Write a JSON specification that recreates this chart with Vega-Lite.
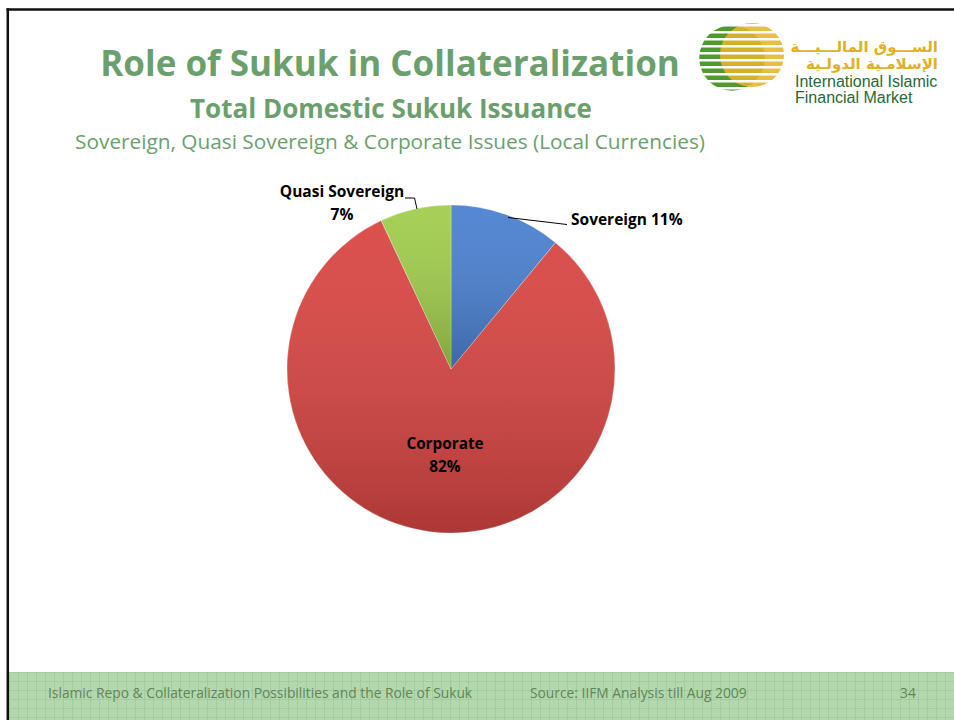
{
  "$schema": "https://vega.github.io/schema/vega-lite/v6.json",
  "width": 954,
  "height": 720,
  "autosize": "none",
  "padding": 0,
  "background": "#ffffff",
  "config": {"view": {"stroke": null}},
  "data": {"values": [
    {"category": "Sovereign", "share": 11, "rank": 1, "label": "Sovereign 11%"},
    {"category": "Corporate", "share": 82, "rank": 2, "label": "Corporate\n82%"},
    {"category": "Quasi Sovereign", "share": 7, "rank": 3, "label": "Quasi Sovereign\n7%"}
  ]},
  "layer": [
    {
      "data": {"values": [{}]},
      "mark": {"type": "rect", "fill": "#b5d7b0"},
      "encoding": {"x": {"value": 9}, "x2": {"value": 954}, "y": {"value": 672}, "y2": {"value": 720}}
    },
    {
      "data": {"values": [{}]},
      "mark": {"type": "rule", "stroke": "#8fc28c", "strokeWidth": 48, "strokeDash": [1, 8], "strokeOpacity": 0.45},
      "encoding": {"x": {"value": 9}, "x2": {"value": 954}, "y": {"value": 696}, "y2": {"value": 696}}
    },
    {
      "data": {"values": [{}]},
      "mark": {"type": "rule", "stroke": "#8fc28c", "strokeWidth": 945, "strokeDash": [1, 8], "strokeOpacity": 0.45},
      "encoding": {"x": {"value": 481.5}, "x2": {"value": 481.5}, "y": {"value": 672}, "y2": {"value": 720}}
    },
    {
      "data": {"values": [{}]},
      "mark": {"type": "rule", "stroke": "#111111", "strokeWidth": 2.5},
      "encoding": {"x": {"value": 6.5}, "x2": {"value": 954}, "y": {"value": 9.5}, "y2": {"value": 9.5}}
    },
    {
      "data": {"values": [{}]},
      "mark": {"type": "rule", "stroke": "#111111", "strokeWidth": 2.5},
      "encoding": {"x": {"value": 7.8}, "x2": {"value": 7.8}, "y": {"value": 8.3}, "y2": {"value": 720}}
    },
    {
      "data": {"values": [{"t": "Islamic Repo & Collateralization Possibilities and the Role of Sukuk"}]},
      "mark": {"type": "text", "x": 48, "y": 694, "align": "left", "baseline": "middle", "font": "Open Sans", "fontSize": 13.8, "fill": "#5f8656"},
      "encoding": {"text": {"field": "t"}}
    },
    {
      "data": {"values": [{"t": "Source: IIFM Analysis till Aug 2009"}]},
      "mark": {"type": "text", "x": 530, "y": 694, "align": "left", "baseline": "middle", "font": "Open Sans", "fontSize": 13.8, "fill": "#5f8656"},
      "encoding": {"text": {"field": "t"}}
    },
    {
      "data": {"values": [{"t": "34"}]},
      "mark": {"type": "text", "x": 908, "y": 694, "align": "center", "baseline": "middle", "font": "Open Sans", "fontSize": 13.8, "fill": "#5f8656"},
      "encoding": {"text": {"field": "t"}}
    },
    {
      "data": {"values": [{"t": "Role of Sukuk in Collateralization"}]},
      "mark": {"type": "text", "x": 390, "y": 65, "align": "center", "baseline": "middle", "font": "Open Sans", "fontWeight": "bold", "fontSize": 35, "fill": "#6b9f6d"},
      "encoding": {"text": {"field": "t"}}
    },
    {
      "data": {"values": [{"t": "Total Domestic Sukuk Issuance"}]},
      "mark": {"type": "text", "x": 391, "y": 109.5, "align": "center", "baseline": "middle", "font": "Open Sans", "fontWeight": "bold", "fontSize": 26, "fill": "#6b9f6d"},
      "encoding": {"text": {"field": "t"}}
    },
    {
      "data": {"values": [{"t": "Sovereign, Quasi Sovereign & Corporate Issues (Local Currencies)"}]},
      "mark": {"type": "text", "x": 390, "y": 143, "align": "center", "baseline": "middle", "font": "Open Sans", "fontSize": 20.8, "fill": "#6b9f6d"},
      "encoding": {"text": {"field": "t"}}
    },
    {
      "data": {"values": [{}]},
      "mark": {"type": "point", "shape": "circle", "x": 732, "y": 58, "size": 4300, "filled": true, "fill": "#4f9a2e", "opacity": 1},
      "encoding": {}
    },
    {
      "data": {"values": [{}]},
      "mark": {"type": "point", "shape": "circle", "x": 752, "y": 55, "size": 4100, "filled": true, "fill": "#e6b52a", "opacity": 0.88},
      "encoding": {}
    },
    {
      "data": {"values": [{}]},
      "mark": {"type": "rule", "stroke": "#ffffff", "strokeWidth": 100, "strokeDash": [2.5, 4.5]},
      "encoding": {"x": {"value": 742}, "x2": {"value": 742}, "y": {"value": 24}, "y2": {"value": 93}}
    },
    {
      "data": {"values": [{"t": "الســـوق المالـــيـــة"}]},
      "mark": {"type": "text", "x": 938, "y": 47, "align": "right", "baseline": "middle", "font": "DejaVu Sans", "fontWeight": "bold", "fontSize": 15, "fill": "#e0b024"},
      "encoding": {"text": {"field": "t"}}
    },
    {
      "data": {"values": [{"t": "الإسلامـية الدولـية"}]},
      "mark": {"type": "text", "x": 938, "y": 64, "align": "right", "baseline": "middle", "font": "DejaVu Sans", "fontWeight": "bold", "fontSize": 15, "fill": "#e0b024"},
      "encoding": {"text": {"field": "t"}}
    },
    {
      "data": {"values": [{"t": "International Islamic"}]},
      "mark": {"type": "text", "x": 795, "y": 82, "align": "left", "baseline": "middle", "font": "Liberation Sans", "fontSize": 16, "fill": "#1f6b38"},
      "encoding": {"text": {"field": "t"}}
    },
    {
      "data": {"values": [{"t": "Financial Market"}]},
      "mark": {"type": "text", "x": 795, "y": 98, "align": "left", "baseline": "middle", "font": "Liberation Sans", "fontSize": 16, "fill": "#1f6b38"},
      "encoding": {"text": {"field": "t"}}
    },
    {
      "mark": {"type": "arc", "x": 451, "y": 369, "outerRadius": 164, "stroke": "#ffffff", "strokeOpacity": 0.3, "strokeWidth": 1},
      "encoding": {
        "theta": {"field": "share", "type": "quantitative", "stack": true},
        "order": {"field": "rank", "type": "quantitative"},
        "color": {"field": "category", "type": "nominal", "legend": null,
          "scale": {"domain": ["Sovereign", "Corporate", "Quasi Sovereign"], "range": ["#4a80d0", "#d84542", "#a0cd4c"]}}
      }
    },
    {
      "mark": {"type": "arc", "x": 451, "y": 369, "outerRadius": 164,
        "fill": {"gradient": "linear", "x1": 0, "y1": 0, "x2": 0, "y2": 1,
          "stops": [{"offset": 0, "color": "rgba(255,255,255,0.06)"}, {"offset": 1, "color": "rgba(0,0,0,0.2)"}]}},
      "encoding": {
        "theta": {"field": "share", "type": "quantitative", "stack": true},
        "order": {"field": "rank", "type": "quantitative"}
      }
    },
    {
      "mark": {"type": "text", "x": 451, "y": 369, "radius": 76, "align": "center", "baseline": "middle", "font": "Open Sans", "fontWeight": "bold", "fontSize": 15.3, "fill": "#000000", "lineBreak": "\n", "lineHeight": 23, "dx": 3.5},
      "encoding": {
        "theta": {"field": "share", "type": "quantitative", "stack": true},
        "order": {"field": "rank", "type": "quantitative"},
        "text": {"condition": {"test": "datum.category === 'Corporate'", "field": "label"}, "value": ""}
      }
    },
    {
      "transform": [{"filter": "datum.category === 'Sovereign'"}],
      "mark": {"type": "text", "x": 571, "y": 220, "align": "left", "baseline": "middle", "font": "Open Sans", "fontWeight": "bold", "fontSize": 15.5, "fill": "#000000"},
      "encoding": {"text": {"field": "label"}}
    },
    {
      "transform": [{"filter": "datum.category === 'Quasi Sovereign'"}],
      "mark": {"type": "text", "x": 342, "y": 192, "align": "center", "baseline": "middle", "font": "Open Sans", "fontWeight": "bold", "fontSize": 15.5, "fill": "#000000", "lineBreak": "\n", "lineHeight": 23},
      "encoding": {"text": {"field": "label"}}
    },
    {
      "data": {"values": [{}]},
      "mark": {"type": "rule", "stroke": "#000000", "strokeWidth": 1},
      "encoding": {"x": {"value": 508}, "y": {"value": 217.5}, "x2": {"value": 567}, "y2": {"value": 224.5}}
    },
    {
      "data": {"values": [{}]},
      "mark": {"type": "rule", "stroke": "#000000", "strokeWidth": 1},
      "encoding": {"x": {"value": 405}, "y": {"value": 198}, "x2": {"value": 414.5}, "y2": {"value": 198}}
    },
    {
      "data": {"values": [{}]},
      "mark": {"type": "rule", "stroke": "#000000", "strokeWidth": 1},
      "encoding": {"x": {"value": 414.5}, "y": {"value": 198}, "x2": {"value": 417}, "y2": {"value": 209}}
    }
  ]
}
